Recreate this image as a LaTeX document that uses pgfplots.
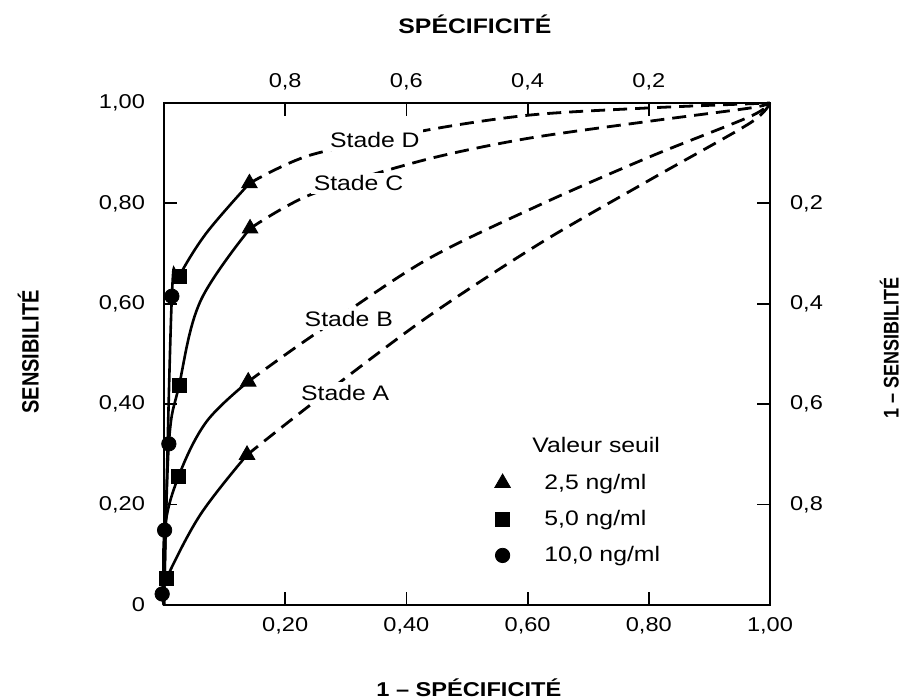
\documentclass[border=0pt]{standalone}
\usepackage{fontspec}
\setmainfont{Liberation Sans}[FakeStretch=1.18]
\newfontfamily\plainfont{Liberation Sans}
\usepackage{graphicx}
\usepackage{pgfplots}
\pgfplotsset{compat=1.18}

\pgfplotsset{
  rocbox/.style={
    scale only axis, width=303pt, height=251pt,
    at={(0,0)}, anchor=south west,
    xmin=0, xmax=1, ymin=0, ymax=1,
    axis line style={line width=1.3pt},
    tick align=inside,
    major tick length=6.5pt,
    major tick style={line width=0.9pt, black},
    /pgf/number format/assume math mode=true,
    ticklabel style={font=\fontsize{10}{12}\selectfont},
    clip=false,
  },
  solid curve/.style={black, line width=1.3pt, smooth, tension=0.6, forget plot},
  dashed curve/.style={black, line width=1.4pt, smooth, tension=0.5,
    dash pattern=on 7pt off 4pt, forget plot},
}
\tikzset{stade/.style={font=\fontsize{10.5}{12}\selectfont, fill=white, inner sep=1.5pt}}

\begin{document}
\begin{tikzpicture}
\useasboundingbox (-82pt,-47pt) rectangle (370pt,302.5pt);

% top / right scales (specificite, 1 - sensibilite)
\begin{axis}[rocbox,
    xtick pos=upper, xticklabel pos=upper,
    ytick pos=upper, yticklabel pos=upper,
    xtick={0.2,0.4,0.6,0.8}, xticklabels={{0,8},{0,6},{0,4},{0,2}},
    ytick={0.2,0.4,0.6,0.8}, yticklabels={{0,8},{0,6},{0,4},{0,2}},
    xticklabel style={yshift=3pt},
    yticklabel style={xshift=6.5pt},
]
\end{axis}

\begin{axis}[rocbox,
    xtick pos=lower, xticklabel pos=lower,
    ytick pos=lower, yticklabel pos=lower,
    xtick={0.2,0.4,0.6,0.8,1}, xticklabels={{0,20},{0,40},{0,60},{0,80},{1,00}},
    ytick={0,0.2,0.4,0.6,0.8,1}, yticklabels={{0},{0,20},{0,40},{0,60},{0,80},{1,00}},
    xticklabel style={yshift=-2.5pt},
    yticklabel style={xshift=-6pt},
    legend cell align=left,
    legend style={draw=none, fill=none, font=\fontsize{10.5}{12}\selectfont,
      at={(axis cs:0.52,0.35)}, anchor=north west, row sep=5pt,
      /tikz/every odd column/.append style={column sep=15pt}},
]
% legend
\addlegendimage{empty legend}
\addlegendentry{\hspace*{-6pt}Valeur seuil}
\addlegendimage{only marks, black, mark=triangle*, mark size=4.5pt}
\addlegendentry{2,5 ng/ml}
\addlegendimage{only marks, black, mark=square*, mark size=3.6pt}
\addlegendentry{5,0 ng/ml}
\addlegendimage{only marks, black, mark=*, mark size=3.6pt}
\addlegendentry{10,0 ng/ml}

% Stade D
\addplot[solid curve] coordinates {(0,0) (0.013,0.615) (0.025,0.655) (0.070,0.741) (0.141,0.840)};
\addplot[dashed curve] coordinates {(0.141,0.840) (0.241,0.896) (0.434,0.946) (0.604,0.976) (0.797,0.990) (1,1)};
% Stade C
\addplot[solid curve] coordinates {(0,0) (0.008,0.321) (0.025,0.438) (0.060,0.605) (0.142,0.750)};
\addplot[dashed curve] coordinates {(0.142,0.750) (0.241,0.817) (0.428,0.886) (0.598,0.929) (0.797,0.963) (0.967,0.990) (1,1)};
% Stade B
\addplot[solid curve] coordinates {(0,0) (0.001,0.149) (0.024,0.256) (0.070,0.365) (0.139,0.445)};
\addplot[dashed curve] coordinates {(0.139,0.445) (0.235,0.528) (0.428,0.684) (0.620,0.797) (0.802,0.893) (0.967,0.973) (1,1)};
% Stade A
\addplot[solid curve] coordinates {(0,0) (-0.003,0.022) (0.004,0.053) (0.060,0.180) (0.137,0.299)};
\addplot[dashed curve] coordinates {(0.137,0.299) (0.241,0.398) (0.428,0.568) (0.620,0.720) (0.802,0.847) (0.967,0.960) (1,1)};

% seuils
\addplot[only marks, black, mark=triangle*, mark size=4.5pt, forget plot] coordinates {
  (0.141,0.840) (0.142,0.750) (0.139,0.445) (0.137,0.299)};
\addplot[only marks, black, mark=square*, mark size=3.6pt, forget plot] coordinates {
  (0.025,0.655) (0.025,0.438) (0.024,0.256) (0.004,0.053)};
\addplot[only marks, black, mark=*, mark size=3.6pt, forget plot] coordinates {
  (0.013,0.615) (0.008,0.321) (0.001,0.149) (-0.003,0.022)};

% curve labels
\node[stade] at (axis cs:0.348,0.926) {Stade D};
\node[stade] at (axis cs:0.321,0.840) {Stade C};
\node[stade] at (axis cs:0.305,0.569) {Stade B};
\node[stade] at (axis cs:0.299,0.423) {Stade A};

% axis titles
\node at (rel axis cs:0.503,-0.165) {\fontsize{10}{12}\selectfont\bfseries 1 – SPÉCIFICITÉ};
\node at (rel axis cs:0.513,1.157) {\fontsize{10.5}{12}\selectfont\bfseries SPÉCIFICITÉ};
\node at (rel axis cs:-0.224,0.504) {\scalebox{1.18}[1]{\rotatebox{90}{\plainfont\bfseries\fontsize{10}{12}\selectfont SENSIBILITÉ}}};
\node at (rel axis cs:1.197,0.512) {\scalebox{1.18}[1]{\rotatebox{90}{\plainfont\bfseries\fontsize{9}{11}\selectfont 1 – SENSIBILITÉ}}};
\end{axis}
\end{tikzpicture}
\end{document}
